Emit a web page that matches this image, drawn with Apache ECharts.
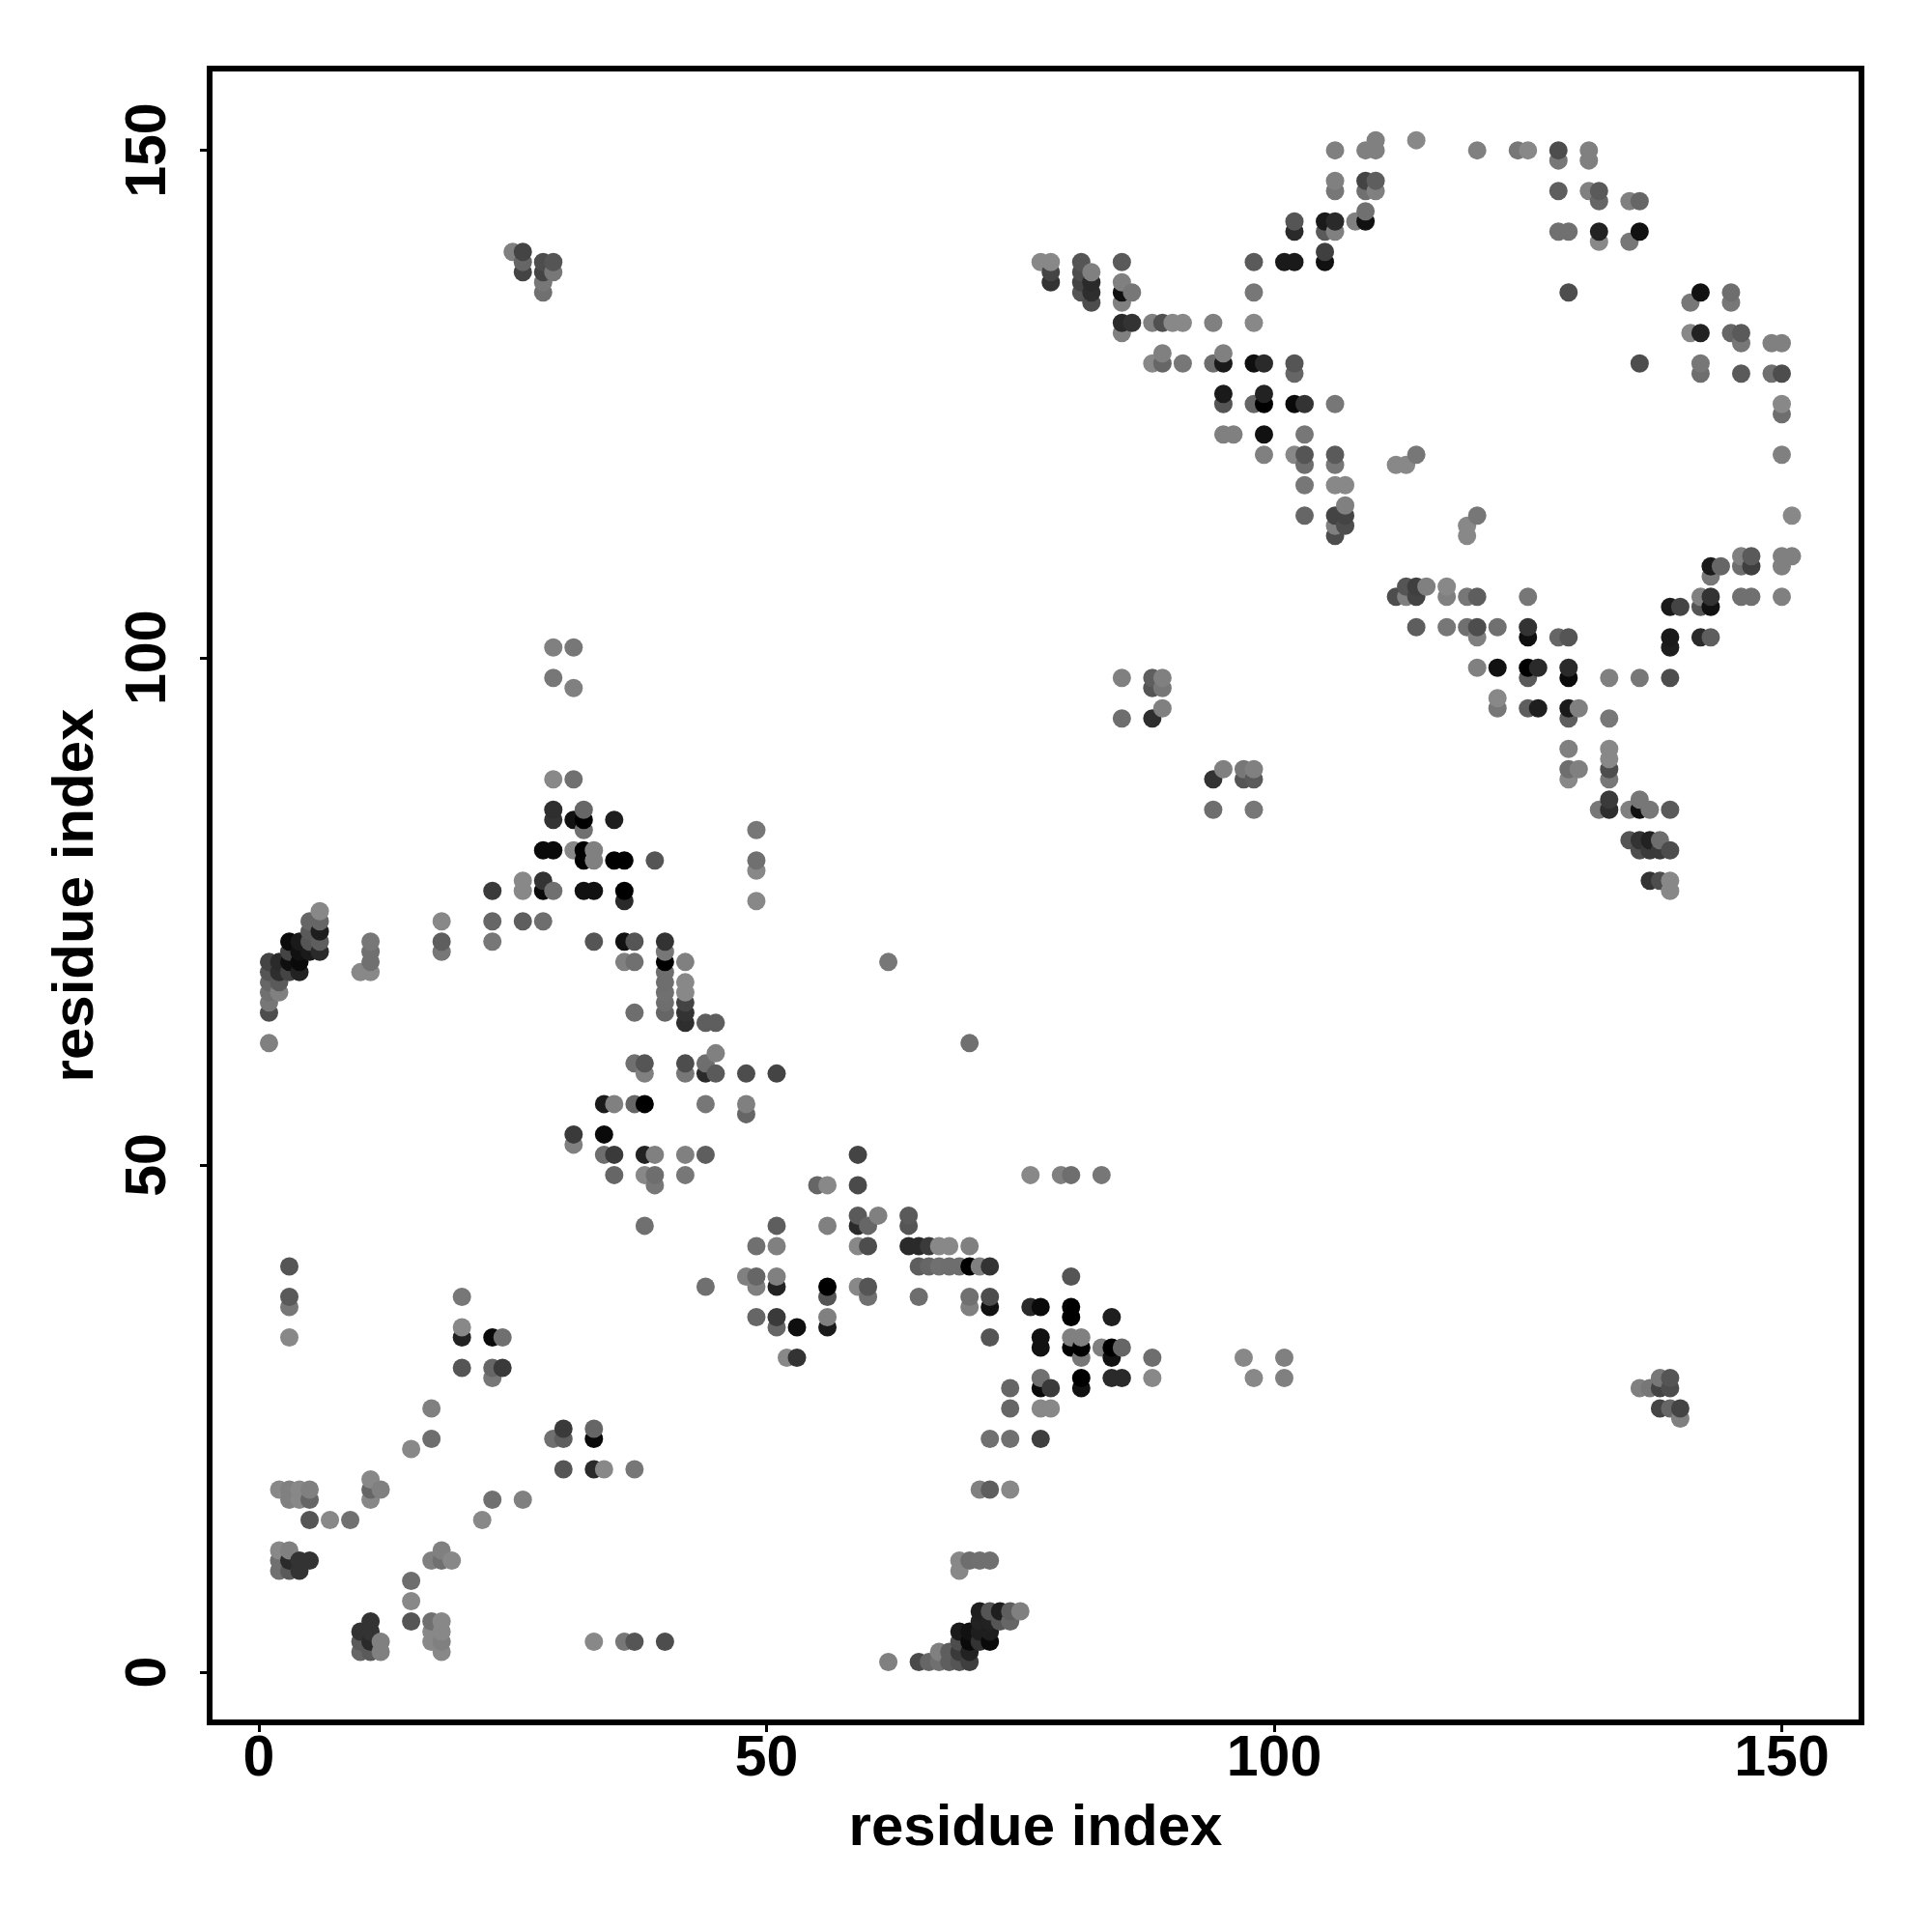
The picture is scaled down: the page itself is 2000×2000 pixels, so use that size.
<!DOCTYPE html>
<html>
<head>
<meta charset="utf-8">
<style>html,body{margin:0;padding:0;background:#fff}#c{width:2000px;height:2000px}</style>
<script src="https://cdn.jsdelivr.net/npm/echarts@6/dist/echarts.min.js"></script>
</head>
<body>
<div id="c"></div>
<script>
const xTicks = [0, 50, 100, 150];
const yTicks = [0, 50, 100, 150];
const xTitle = 'residue index';
const yTitle = 'residue index';
// each row: x residue, then [y residue, gray level]
const residues1to29 = [
[1,[62,128],[65,77],[66,119],[67,112],[68,102],[69,85],[70,68]],
[2,[10,112],[11,112],[12,136],[18,136],[67,128],[68,90],[69,46],[70,42]],
[3,[10,90],[11,42],[12,128],[17,128],[18,128],[33,136],[36,119],[37,90],[40,85],[69,68],[70,15],[71,68],[72,10]],
[4,[10,51],[11,51],[17,136],[18,136],[69,34],[70,10],[71,17],[72,26]],
[5,[11,51],[15,85],[17,102],[18,128],[71,26],[72,85],[73,90],[74,102]],
[6,[71,42],[72,94],[73,30],[74,102],[75,136]],
[7,[15,136]],
[9,[15,112]],
[10,[2,102],[3,90],[4,51],[69,136]],
[11,[2,90],[3,42],[4,51],[5,51],[17,136],[18,102],[19,136],[69,136],[70,112],[71,112],[72,119]],
[12,[2,128],[3,128],[18,128]],
[15,[5,85],[7,136],[9,110],[22,136]],
[17,[3,136],[4,136],[5,112],[11,128],[23,110],[26,128]],
[18,[2,136],[3,128],[4,136],[5,136],[11,112],[12,128],[71,119],[72,94],[74,136]],
[19,[11,136]],
[20,[30,85],[33,34],[34,136],[37,119]],
[22,[15,136]],
[23,[17,112],[29,119],[30,102],[33,10],[72,119],[74,102],[77,58]],
[24,[30,58],[33,112]],
[25,[140,128]],
[26,[17,128],[74,94],[77,136],[78,136],[138,68],[139,102],[140,68]],
[28,[74,110],[77,10],[78,51],[81,10],[136,112],[137,119],[138,68],[139,77]],
[29,[23,112],[77,112],[81,10],[84,51],[85,46],[88,136],[98,119],[101,128],[138,119],[139,85]]
];
const residues30to59 = [
[30,[20,85],[23,94],[24,58]],
[31,[52,128],[53,58],[81,136],[84,17],[88,112],[97,128],[101,119]],
[32,[77,17],[80,0],[81,0],[83,112],[84,0],[85,102]],
[33,[3,136],[20,42],[23,10],[24,102],[72,85],[77,17],[80,128],[81,128]],
[34,[20,136],[51,110],[53,10],[56,26]],
[35,[49,102],[51,58],[56,128],[80,0],[84,30]],
[36,[3,119],[70,128],[72,17],[76,42],[77,0],[80,0]],
[37,[3,85],[20,119],[56,102],[60,112],[65,110],[70,112],[72,85]],
[38,[44,112],[49,136],[51,34],[56,0],[59,128],[60,85]],
[39,[48,119],[49,110],[51,128],[80,85]],
[40,[3,77],[65,102],[66,110],[67,112],[68,110],[69,110],[70,0],[71,119],[72,51]],
[42,[49,119],[51,128],[59,119],[60,77],[64,46],[65,51],[66,68],[67,136],[68,136],[70,128]],
[44,[38,112],[51,94],[56,119],[59,42],[60,110],[64,94]],
[45,[59,90],[61,128],[64,94]],
[48,[39,128],[55,102],[56,128],[59,77]],
[49,[35,102],[38,128],[39,102],[42,112],[76,136],[79,136],[80,112],[83,119]],
[51,[34,102],[35,58],[38,34],[39,128],[42,128],[44,94],[59,68]],
[52,[31,136]],
[53,[31,51],[34,15]],
[55,[48,102]],
[56,[34,26],[35,128],[37,85],[38,0],[44,128],[48,136]],
[59,[38,136],[42,136],[44,42],[45,90],[48,74],[51,68]]
];
const residues60to89 = [
[60,[37,112],[38,85],[42,77],[44,102]],
[61,[45,128]],
[62,[1,128],[70,119]],
[64,[42,42],[44,85],[45,90]],
[65,[1,74],[37,110],[40,94],[42,42]],
[66,[1,102],[40,102],[42,58]],
[67,[1,112],[2,128],[40,112],[42,136]],
[68,[1,94],[2,94],[40,110],[42,136]],
[69,[1,85],[2,58],[3,77],[4,26],[10,136],[11,136],[40,110]],
[70,[1,63],[2,34],[3,10],[4,17],[11,110],[36,128],[37,112],[40,0],[42,128],[62,112]],
[71,[3,51],[4,30],[5,34],[6,30],[11,112],[18,128],[40,128]],
[72,[3,10],[4,30],[5,34],[6,85],[11,112],[18,94],[23,112],[33,85],[36,17],[37,77],[40,51]],
[73,[5,85],[6,30]],
[74,[5,102],[6,94],[18,136],[23,112],[26,102],[28,102]],
[75,[6,128]],
[76,[36,42],[49,136]],
[77,[23,63],[26,136],[28,10],[29,112],[32,17],[33,17],[36,10],[139,136]],
[78,[26,136],[28,58],[137,51],[138,68],[139,136]],
[79,[49,128]],
[80,[32,0],[33,128],[35,0],[36,0],[39,85],[49,110]],
[81,[28,17],[29,0],[31,119],[32,0],[33,128],[136,85],[137,68],[138,77],[139,85]],
[82,[135,77],[136,46],[137,42],[138,128]],
[83,[32,128],[49,119]],
[84,[29,42],[31,17],[32,0],[35,30]],
[85,[29,42],[32,102],[94,110],[98,128],[132,128],[133,42],[135,128],[136,17],[137,128],[139,90]],
[86,[133,51],[136,119]],
[88,[29,136],[31,110],[94,46],[97,85],[98,94],[129,136],[133,128]],
[89,[95,128],[97,119],[98,128],[129,102],[130,128],[133,80]]
];
const residues90to119 = [
[90,[133,136]],
[91,[129,119],[133,136]],
[94,[85,110],[88,51],[129,110],[133,128]],
[95,[89,128],[122,128],[125,85],[126,26],[129,26],[130,128]],
[96,[122,128]],
[97,[31,136],[88,85],[89,119]],
[98,[29,136],[85,119],[88,90],[89,128],[125,102],[129,15],[133,136],[136,119],[139,90]],
[99,[120,128],[122,17],[125,0],[126,34],[129,42]],
[101,[29,128],[31,128],[139,26]],
[102,[120,136],[125,10],[128,102],[129,85],[139,26],[142,42],[143,85]],
[103,[114,102],[117,119],[119,110],[120,85],[122,119],[125,51]],
[105,[139,17],[140,63],[142,90],[143,26]],
[106,[112,77],[113,128],[114,68],[117,136],[119,119],[120,90],[125,119],[142,128],[143,42],[146,119],[147,128],[150,128]],
[107,[113,77],[114,68],[115,128],[117,136]],
[108,[143,128]],
[109,[143,17],[144,112],[146,112],[147,68],[150,128]],
[110,[146,128],[147,94],[150,128],[151,128]],
[112,[106,77],[119,136]],
[113,[106,128],[107,85],[119,136]],
[114,[103,94],[106,68],[107,63],[120,119],[151,136]],
[115,[107,128]],
[117,[103,119],[106,128],[107,136]],
[119,[103,112],[106,119],[112,136],[113,136]]
];
const residues120to151 = [
[120,[99,128],[102,128],[103,77],[106,94],[114,119],[150,128]],
[122,[95,119],[96,136],[99,17],[103,112]],
[124,[150,119]],
[125,[95,94],[98,90],[99,0],[102,15],[103,51],[106,119],[150,136]],
[126,[95,30],[99,42]],
[128,[102,102],[142,112],[146,94],[149,119],[150,77]],
[129,[88,136],[89,110],[91,128],[94,94],[95,26],[98,10],[99,42],[102,85],[136,77],[142,112]],
[130,[89,128],[95,128]],
[131,[146,128],[149,128],[150,128]],
[132,[85,119],[141,136],[142,34],[145,102],[146,90]],
[133,[85,46],[86,58],[88,119],[89,77],[90,136],[91,136],[94,119],[98,128]],
[135,[82,85],[85,128],[141,119],[145,128]],
[136,[28,128],[81,77],[82,51],[85,17],[86,119],[98,119],[129,77],[142,17],[145,102]],
[137,[28,119],[78,51],[81,58],[82,34],[85,119]],
[138,[26,68],[28,68],[29,119],[78,77],[81,58],[82,110]],
[139,[26,102],[28,77],[29,85],[77,136],[78,136],[81,77],[85,90],[98,77],[101,30],[102,26],[105,26]],
[140,[25,128],[26,68],[105,68]],
[141,[132,136],[135,119]],
[142,[102,42],[105,85],[106,128],[128,110],[129,119],[132,34],[136,17]],
[143,[102,94],[105,17],[106,51],[108,119],[109,26]],
[144,[109,102]],
[145,[132,102],[135,119],[136,110]],
[146,[106,112],[109,110],[110,128],[128,90],[131,119],[132,90]],
[147,[106,112],[109,63],[110,90]],
[149,[128,112],[131,128]],
[150,[106,128],[109,128],[110,128],[120,128],[124,110],[125,136],[128,77],[131,128]],
[151,[110,128],[114,136]]
];

const points = [];
[residues1to29, residues30to59, residues60to89, residues90to119, residues120to151].forEach(function (block) {
  block.forEach(function (row) {
    for (let i = 1; i < row.length; i++) points.push([row[0], row[i][0], row[i][1]]);
  });
});
// later x, then higher y, are painted on top
points.sort(function (a, b) { return a[0] - b[0] || a[1] - b[1]; });

const font = '"Liberation Sans", Arial, sans-serif';
const chart = echarts.init(document.getElementById('c'), null, { renderer: 'canvas', width: 2000, height: 2000 });
chart.setOption({
  animation: false,
  backgroundColor: '#fff',
  grid: { show: true, left: 217, top: 71, width: 1710, height: 1712, borderColor: '#000', borderWidth: 6, backgroundColor: 'transparent', containLabel: false },
  xAxis: {
    type: 'value', min: -4.85, max: 157.85,
    name: xTitle, nameLocation: 'middle', nameGap: 80,
    nameTextStyle: { fontFamily: font, fontWeight: 'bold', fontSize: 60, color: '#000' },
    axisLine: { show: false, onZero: false }, splitLine: { show: false },
    axisTick: { show: true, length: 10, lineStyle: { color: '#000', width: 3 }, customValues: xTicks },
    axisLabel: { fontFamily: font, fontWeight: 'bold', fontSize: 59, color: '#000', margin: 9, customValues: xTicks, formatter: function (v) { return String(v); } }
  },
  yAxis: {
    type: 'value', min: -4.95, max: 158.06,
    name: yTitle, nameLocation: 'middle', nameGap: 108, nameRotate: 90,
    nameTextStyle: { fontFamily: font, fontWeight: 'bold', fontSize: 60, color: '#000' },
    axisLine: { show: false, onZero: false }, splitLine: { show: false },
    axisTick: { show: true, length: 10, lineStyle: { color: '#000', width: 3 }, customValues: yTicks },
    axisLabel: { fontFamily: font, fontWeight: 'bold', fontSize: 59, color: '#000', margin: 62, rotate: 90, customValues: yTicks, align: 'center', verticalAlign: 'middle', formatter: function (v) { return String(v); } }
  },
  series: [{
    type: 'scatter', symbol: 'circle', symbolSize: 19, silent: true,
    data: points,
    encode: { x: 0, y: 1 },
    itemStyle: { opacity: 1, color: function (p) { const g = p.value[2]; return 'rgb(' + g + ',' + g + ',' + g + ')'; } },
    large: false, progressive: 0
  }]
});
</script>
</body>
</html>
